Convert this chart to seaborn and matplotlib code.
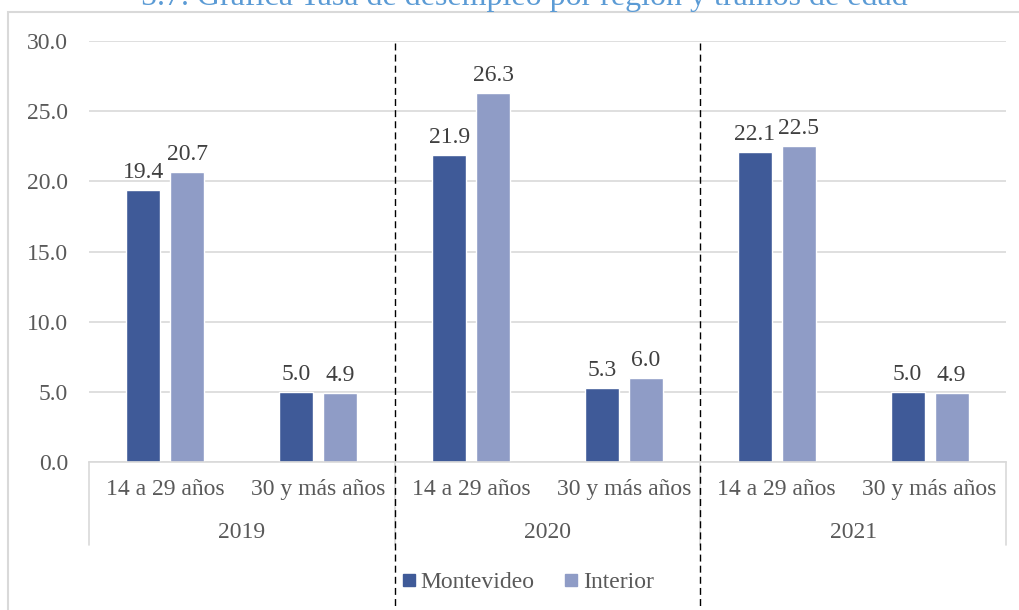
import matplotlib
matplotlib.use("Agg")
import matplotlib.pyplot as plt
import seaborn as sns
import pandas as pd
from matplotlib.patches import Rectangle
from matplotlib.lines import Line2D

years = ["2019", "2020", "2021"]
age_groups = ["14 a 29 años", "30 y más años"]
montevideo = [19.4, 5.0, 21.9, 5.3, 22.1, 5.0]
interior = [20.7, 4.9, 26.3, 6.0, 22.5, 4.9]
series = ["Montevideo", "Interior"]
yticks = [0, 5, 10, 15, 20, 25, 30]
title = "5.7. Gráfica Tasa de desempleo por región y tramos de edad"

colors = {"Montevideo": "#3F5A98", "Interior": "#8F9CC6"}

cats = [f"{y}|{a}" for y in years for a in age_groups]
rows = []
for i, c in enumerate(cats):
    rows.append({"cat": c, "serie": "Montevideo", "val": montevideo[i]})
    rows.append({"cat": c, "serie": "Interior", "val": interior[i]})
df = pd.DataFrame(rows)

sns.set_theme(style="white")
plt.rcParams["font.family"] = ["Liberation Serif", "DejaVu Serif"]

FS = 17
W, H = 1019, 610
fig = plt.figure(figsize=(W / 100, H / 100), dpi=100)
ax = fig.add_axes([89 / W, 1 - 462 / H, (1006 - 89) / W, (462 - 41) / H])

sns.barplot(data=df, x="cat", y="val", hue="serie", order=cats,
            hue_order=series, palette=colors, width=0.576, gap=0.227,
            ax=ax, legend=False, saturation=1)

ax.set_xlim(-0.5, 5.5)
ax.set_ylim(0, 30)
ax.set_yticks(yticks)
ax.set_yticklabels([f"{v:.1f}" for v in yticks], fontsize=FS, color="#595959")
ax.tick_params(axis="y", length=0, pad=15)
ax.yaxis.grid(True, color="#D9D9D9", linewidth=1.2)
ax.set_axisbelow(True)
for s in ["left", "right", "top"]:
    ax.spines[s].set_visible(False)
ax.spines["bottom"].set_color("#D9D9D9")
ax.spines["bottom"].set_linewidth(1.2)
ax.set_xlabel("")
ax.set_ylabel("")
ax.set_xticks(range(len(cats)))
ax.set_xticklabels([c.split("|")[1] for c in cats], fontsize=FS, color="#595959")
ax.tick_params(axis="x", length=0, pad=12)

for cont in ax.containers:
    ax.bar_label(cont, fmt="%.1f", padding=5, fontsize=FS, color="#404040")

xt = ax.get_xaxis_transform()
axh = 462 - 41
for xs in [-0.5, 1.5, 3.5, 5.5]:
    ax.plot([xs, xs], [0, -83 / axh], transform=xt, color="#D9D9D9",
            linewidth=1.2, clip_on=False)
for gi, y in enumerate(years):
    ax.text(gi * 2 + 0.5, -(532 - 462) / axh, y, transform=xt, ha="center",
            va="center", fontsize=FS, color="#595959")
for xs in [1.5, 3.5]:
    ax.plot([xs, xs], [(462 - 43) / axh, -(620 - 462) / axh], transform=xt,
            color="black", linewidth=1.0, linestyle=(0, (5, 3)), clip_on=False)

# chart border
fig.patches.append(Rectangle((8 / W, -0.05), 1.1, 1.05 - 12 / H,
                             transform=fig.transFigure, fill=False,
                             edgecolor="#D9D9D9", linewidth=1.5))

# legend
handles = [Line2D([], [], marker="s", linestyle="", markersize=9,
                  color=colors[s]) for s in series]
fig.legend(handles, series, loc="center", bbox_to_anchor=(527 / W, 1 - 582 / H),
           ncol=2, frameon=False, fontsize=FS, handletextpad=0.15,
           columnspacing=1.2, handlelength=0.7, labelcolor="#595959")

fig.text(524 / W, 1 - 5 / H, title, ha="center", va="baseline",
         fontsize=23, color="#5B9BD5")

fig.savefig("out.png", dpi=100)
